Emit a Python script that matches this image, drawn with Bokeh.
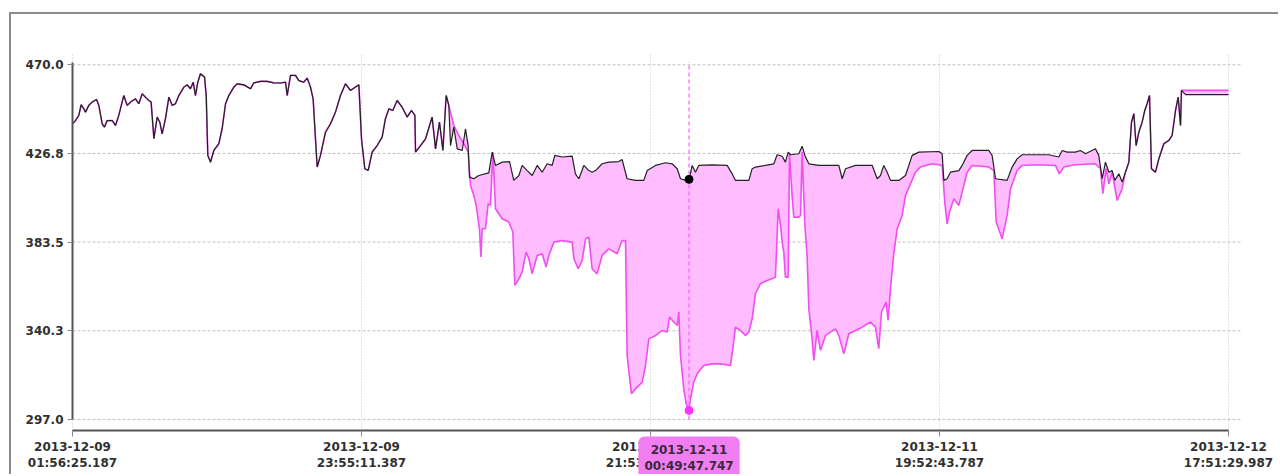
import numpy as np
import pandas as pd
from bokeh.plotting import figure
from bokeh.models import Range1d, FixedTicker, Label
from bokeh.embed import file_html
from bokeh.resources import INLINE

# ---- data -------------------------------------------------------------
start_time = "2013-12-09 01:56:25.187"
end_time = "2013-12-12 17:51:29.987"
cursor_time = "2013-12-11 00:49:47.747"

# hours since start where both meters report the same reading
shared_hours = [0.00, 0.23, 0.48, 0.66, 0.86, 0.99, 1.24, 1.50, 1.83, 2.00, 2.26, 2.43, 2.64, 3.02, 3.27,
                3.52, 3.90, 4.16, 4.41, 4.79, 5.04, 5.30, 5.55, 5.80, 5.98, 6.19, 6.44, 6.64, 6.82, 7.07,
                7.33, 7.58, 7.83, 8.09, 8.47, 8.72, 8.97, 9.18, 9.35, 9.53, 9.73, 10.04, 10.17, 10.29,
                10.50, 10.75, 11.13, 11.38, 11.64, 11.89, 12.27, 12.52, 13.03, 13.54, 13.79, 14.30,
                14.80, 15.31, 15.82, 16.20, 16.33, 16.58, 16.96, 17.21, 17.59, 17.85, 18.10, 18.30,
                18.48, 18.61, 18.86, 19.24, 19.62, 20.00, 20.38, 20.76, 21.14, 21.52, 21.78, 21.98,
                22.23, 22.49, 22.79, 23.17, 23.55, 23.80, 24.06, 24.36, 24.69, 25.07, 25.45, 25.78,
                26.04, 26.09, 26.47, 26.85, 27.35, 27.61, 27.91, 28.17, 28.42, 28.62]
shared_vals = [441.2, 442.8, 445.3, 450.5, 448.5, 446.9, 450.2, 451.8, 453.1, 450.2, 441.2, 439.6, 442.8,
               442.8, 440.4, 445.3, 455.0, 450.2, 451.8, 453.4, 451.0, 455.8, 454.2, 452.6, 451.8, 433.9,
               444.5, 442.0, 436.3, 443.7, 454.2, 450.2, 451.0, 455.0, 459.1, 460.2, 458.3, 461.5, 455.0,
               461.5, 465.6, 464.0, 455.0, 425.8, 422.5, 428.2, 431.5, 438.8, 451.0, 455.0, 459.1, 460.7,
               460.2, 458.3, 461.2, 461.9, 461.9, 461.2, 461.1, 461.5, 455.0, 464.8, 464.8, 462.3, 461.5,
               463.5, 459.1, 453.4, 433.9, 420.1, 425.8, 437.1, 441.2, 446.9, 455.0, 460.7, 457.5, 459.1,
               460.2, 433.9, 419.3, 418.5, 427.4, 430.6, 434.7, 443.7, 448.5, 447.7, 452.6, 449.3, 444.5,
               447.7, 445.3, 427.4, 430.6, 433.9, 444.5, 429.0, 442.0, 428.2, 455.0, 450.2]

# upper trace (black) after the two meters split
upper_tail_hours = [28.75, 29.00, 29.26, 29.64, 29.89, 30.09, 30.19, 30.52, 30.90, 31.66, 31.92, 32.17,
                    32.68, 33.24, 33.56, 33.95, 34.20, 34.58, 34.96, 35.34, 35.72, 36.10, 36.48, 36.68,
                    37.24, 38.00, 38.25, 38.51, 38.89, 39.27, 39.52, 39.78, 40.28, 40.79, 41.55, 41.80,
                    42.18, 42.82, 43.45, 43.71, 44.34, 45.10, 45.61, 45.99, 46.24, 46.62, 46.89, 47.13,
                    47.38, 47.63, 48.65, 49.79, 50.17, 50.42, 51.44, 51.69, 51.94, 52.70, 53.34, 53.59,
                    53.97, 54.22, 54.43, 54.61, 55.24, 55.49, 55.70, 56.00, 56.76, 58.28, 58.54, 58.79,
                    59.55, 60.82, 61.20, 61.45, 61.70, 61.96, 62.21, 62.84, 63.35, 63.86, 64.37, 65.89,
                    66.14, 66.27, 66.52, 66.77, 67.41, 67.66, 68.04, 68.42, 69.69, 69.94, 70.20, 71.08,
                    71.46, 71.84, 72.22, 74.25, 75.01, 75.27, 75.65, 76.28, 76.66, 77.04, 77.80, 78.05,
                    78.31, 78.56, 78.82, 79.07, 79.27, 79.58, 79.83, 80.08, 80.34, 80.54, 80.72, 80.89,
                    81.10, 81.35, 81.55, 81.73, 81.91, 82.06, 82.36, 82.62, 83.00, 83.38, 83.63, 83.89,
                    84.09, 84.27, 84.34, 84.65, 87.92]
upper_tail_vals = [430.6, 439.6, 429.0, 428.2, 438.8, 430.6, 415.2, 414.4, 416.0, 417.3, 427.4, 420.9,
                   422.5, 422.8, 413.6, 416.0, 420.9, 418.4, 416.0, 420.9, 417.6, 421.7, 420.9, 425.8,
                   425.0, 425.4, 416.8, 414.4, 420.9, 418.4, 417.6, 418.4, 421.7, 422.5, 422.8, 423.8,
                   414.4, 413.6, 413.6, 418.4, 420.9, 422.2, 421.7, 419.3, 414.4, 413.6, 414.1, 420.9,
                   417.6, 420.9, 421.2, 420.9, 416.8, 413.6, 413.6, 419.3, 420.1, 420.9, 421.7, 426.1,
                   425.4, 422.5, 427.4, 426.1, 426.6, 430.3, 425.8, 421.7, 420.9, 420.9, 414.4, 419.3,
                   420.9, 420.9, 414.4, 416.0, 420.9, 417.6, 413.6, 413.6, 416.0, 425.8, 427.4, 427.7,
                   426.6, 413.6, 414.4, 417.6, 418.4, 420.9, 425.8, 428.2, 428.2, 425.8, 414.4, 413.6,
                   420.1, 424.1, 426.1, 426.1, 425.0, 428.2, 427.4, 427.4, 428.2, 426.6, 429.0, 425.8,
                   414.4, 422.5, 417.6, 418.4, 413.6, 416.8, 412.8, 417.6, 422.5, 442.0, 446.1, 430.6,
                   437.1, 442.0, 447.7, 451.0, 455.0, 419.3, 417.6, 424.1, 431.5, 433.1, 435.5, 447.7,
                   454.2, 440.4, 457.5, 455.4, 455.4]

# lower trace (magenta) after the two meters split
lower_tail_hours = [29.00, 29.38, 29.76, 30.09, 30.27, 30.52, 30.70, 30.95, 31.06, 31.16, 31.41, 31.61,
                    31.79, 31.97, 32.17, 32.68, 33.18, 33.49, 33.64, 33.95, 34.20, 34.50, 34.71, 34.96,
                    35.34, 35.72, 36.02, 36.23, 36.61, 37.24, 38.00, 38.13, 38.46, 38.76, 39.02, 39.27,
                    39.52, 39.90, 40.28, 40.79, 41.42, 41.80, 42.06, 42.18, 42.51, 42.82, 43.33, 43.58,
                    43.83, 44.34, 44.85, 45.23, 45.40, 45.73, 45.99, 46.11, 46.24, 46.49, 46.67, 46.89,
                    47.00, 47.25, 47.51, 48.01, 48.65, 49.28, 50.04, 50.22, 50.42, 50.80, 51.18, 51.44,
                    51.69, 51.94, 52.32, 52.83, 53.46, 53.67, 53.85, 53.97, 54.10, 54.22, 54.43, 54.53,
                    54.73, 54.86, 55.24, 55.37, 55.49, 55.70, 55.87, 56.00, 56.25, 56.38, 56.63, 56.89,
                    57.27, 57.65, 58.03, 58.28, 58.66, 59.04, 59.55, 60.06, 60.69, 61.07, 61.32, 61.53,
                    61.88, 62.03, 62.21, 62.46, 62.72, 63.10, 63.35, 63.73, 64.11, 64.49, 65.38, 65.89,
                    66.14, 66.34, 66.52, 66.70, 67.03, 67.41, 67.66, 68.04, 68.42, 69.69, 70.07, 70.25,
                    70.70, 71.08, 71.34, 71.84, 72.22, 73.24, 74.76, 75.06, 75.39, 76.28, 77.80, 78.18,
                    78.36, 78.61, 78.82, 79.07, 79.45, 79.83, 80.08, 80.34, 80.54, 80.72, 80.89, 81.10,
                    81.35, 81.55, 81.73, 81.91, 82.06, 82.36, 82.62, 83.00, 83.38, 83.63, 83.89, 84.09,
                    84.27, 84.34, 84.65, 87.92]
lower_tail_vals = [440.4, 435.5, 431.5, 427.4, 411.1, 406.3, 401.4, 390.0, 376.2, 390.0, 390.0, 402.2,
                   401.4, 427.4, 399.8, 394.9, 393.3, 388.4, 362.4, 365.6, 368.9, 378.6, 375.4, 368.0,
                   377.0, 377.8, 371.3, 377.0, 383.5, 384.3, 383.5, 375.4, 370.5, 374.5, 385.1, 385.9,
                   370.5, 368.0, 377.0, 380.2, 377.8, 384.3, 384.3, 328.2, 309.5, 311.9, 315.2, 323.3,
                   336.3, 337.9, 340.4, 339.6, 346.9, 344.5, 342.8, 349.4, 328.2, 311.9, 304.6, 301.4,
                   307.1, 315.2, 319.3, 323.3, 324.1, 324.1, 323.3, 331.5, 342.0, 340.4, 338.0, 339.6,
                   346.1, 358.3, 363.2, 364.8, 366.4, 399.8, 391.6, 383.5, 378.6, 366.4, 366.4, 426.6,
                   406.2, 395.7, 395.7, 396.5, 427.4, 391.6, 377.0, 351.0, 336.4, 325.8, 340.4, 330.7,
                   338.0, 339.6, 341.2, 338.0, 329.0, 338.8, 340.4, 342.0, 344.5, 342.0, 331.5, 349.4,
                   354.2, 345.3, 360.7, 377.8, 390.0, 396.5, 406.2, 411.9, 417.6, 420.1, 421.7, 421.2,
                   420.9, 403.0, 392.4, 398.1, 404.6, 401.4, 407.9, 417.6, 420.9, 420.1, 418.4, 393.3,
                   385.1, 396.5, 409.5, 418.4, 420.9, 421.2, 420.9, 416.8, 420.1, 421.2, 421.7, 419.3,
                   407.1, 419.3, 411.9, 417.6, 403.8, 409.5, 417.6, 422.5, 442.0, 446.1, 430.6, 437.1,
                   442.0, 447.7, 451.0, 455.0, 419.3, 417.6, 424.1, 431.5, 433.1, 435.5, 447.7, 454.2,
                   440.4, 457.5, 457.5, 457.5]

x_tick_labels = ["2013-12-09\n01:56:25.187", "2013-12-09\n23:55:11.387", "2013-12-10\n21:53:57.587",
                 "2013-12-11\n19:52:43.787", "2013-12-12\n17:51:29.987"]
y_ticks = [297.0, 340.25, 383.5, 426.75, 470.0]
y_tick_labels = ["297.0", "340.3", "383.5", "426.8", "470.0"]


# ---- helpers ----------------------------------------------------------
def to_ms(stamp):
    return int(pd.Timestamp(stamp).value // 10**6)


start_ms = to_ms(start_time)
end_ms = to_ms(end_time)
cursor_ms = to_ms(cursor_time)

upper_h = np.array(shared_hours + upper_tail_hours)
upper_v = np.array(shared_vals + upper_tail_vals)
lower_h = np.array(shared_hours + lower_tail_hours)
lower_v = np.array(shared_vals + lower_tail_vals)

upper_x = start_ms + upper_h * 3.6e6
lower_x = start_ms + lower_h * 3.6e6

x_ticks = [to_ms(lbl.replace("\n", " ")) for lbl in x_tick_labels]
cursor_h = (cursor_ms - start_ms) / 3.6e6
cursor_upper = float(np.interp(cursor_h, upper_h, upper_v))
cursor_lower = float(np.interp(cursor_h, lower_h, lower_v))

# ---- layout in data units ---------------------------------------------
# the plotting area fills the whole canvas; axes are pinned inside it so
# their labels and the cursor tag share one drawing surface
W, H = 1269, 462
ms_per_px = (end_ms - start_ms) / 1156.0
per_px = 183.9 / 377.0
x_lo = start_ms - 61 * ms_per_px
x_hi = start_ms + (W - 61) * ms_per_px
grid_right = start_ms + 1168 * ms_per_px
y_top_frame = 475.5              # top of the gridded area
y_hi = y_top_frame + 39 * per_px
y_lo = y_hi - H * per_px
x_axis_at = 291.6
axis_top = 471.3

# ---- figure -------------------------------------------------------------
p = figure(width=W, height=H, x_axis_type="datetime",
           x_range=Range1d(x_lo, x_hi), y_range=Range1d(y_lo, y_hi),
           output_backend="svg", toolbar_location=None,
           min_border_left=0, min_border_right=0, min_border_top=0, min_border_bottom=0)
p.styles = {"margin-left": "9px", "margin-top": "12px",
            "border-top": "2px solid #8c8c8c", "border-left": "2px solid #8c8c8c"}
p.outline_line_color = None
p.background_fill_color = "white"
p.border_fill_color = "white"

# grid: dashed horizontals and dotted verticals, limited to the chart box
p.xgrid.visible = False
p.ygrid.visible = False
p.segment(x0=[start_ms] * len(y_ticks), y0=y_ticks, x1=[grid_right] * len(y_ticks), y1=y_ticks,
          line_color="#c0c0c0", line_width=1, line_dash="3 2")
p.segment(x0=x_ticks, y0=[x_axis_at] * len(x_ticks), x1=x_ticks, y1=[y_top_frame] * len(x_ticks),
          line_color="#c6c6c6", line_width=1, line_dash="1 2")

# axes
for ax in (p.xaxis[0], p.yaxis[0]):
    ax.axis_line_color = "#555555"
    ax.axis_line_width = 2
    ax.major_tick_line_color = "#8a8a8a"
    ax.major_tick_in = 0
    ax.minor_tick_line_color = None
    ax.major_label_text_font = "DejaVu Sans"
    ax.major_label_text_font_style = "bold"
    ax.major_label_text_font_size = "12px"
    ax.major_label_text_color = "#303030"

p.xaxis.ticker = FixedTicker(ticks=x_ticks)
p.xaxis.major_label_overrides = dict(zip(x_ticks, x_tick_labels))
p.xaxis.bounds = (start_ms, end_ms)
p.xaxis.fixed_location = x_axis_at
p.xaxis.major_tick_out = 6
p.xaxis.major_label_standoff = 3

p.yaxis.ticker = FixedTicker(ticks=y_ticks)
p.yaxis.major_label_overrides = dict(zip(y_ticks, y_tick_labels))
p.yaxis.bounds = (y_ticks[0], axis_top)
p.yaxis.fixed_location = start_ms
p.yaxis.major_tick_out = 5
p.yaxis.major_label_standoff = 4

# band between the two traces
band_x = np.concatenate([upper_x, lower_x[::-1]])
band_y = np.concatenate([upper_v, lower_v[::-1]])
p.patch(band_x, band_y, fill_color="#ffbcff", line_color=None)

p.line(lower_x, lower_v, line_color="#f04ef0", line_width=1.6)
p.line(upper_x, upper_v, line_color="#222222", line_width=1.2)

# cursor
p.segment(x0=[cursor_ms], y0=[y_ticks[0]], x1=[cursor_ms], y1=[axis_top],
          line_color="#ff5cff", line_width=1.2, line_dash="4 3")
p.scatter([cursor_ms], [cursor_upper], size=8, color="black")
p.scatter([cursor_ms], [cursor_lower], size=8, color="#ff33ff")

# cursor time tag sitting over the axis labels
tag_y = x_axis_at - 6 * per_px
cursor_label = Label(x=cursor_ms, y=tag_y, x_units="data", y_units="data",
                     text=cursor_time.replace(" ", "\n"),
                     text_align="center", text_baseline="top",
                     text_font="DejaVu Sans", text_font_style="bold", text_font_size="12px",
                     text_color="#3a2a3a", background_fill_color="#f07ef0",
                     padding=6, border_radius=6, level="overlay")
p.add_layout(cursor_label)

open("out.html", "w").write(file_html(p, INLINE))
